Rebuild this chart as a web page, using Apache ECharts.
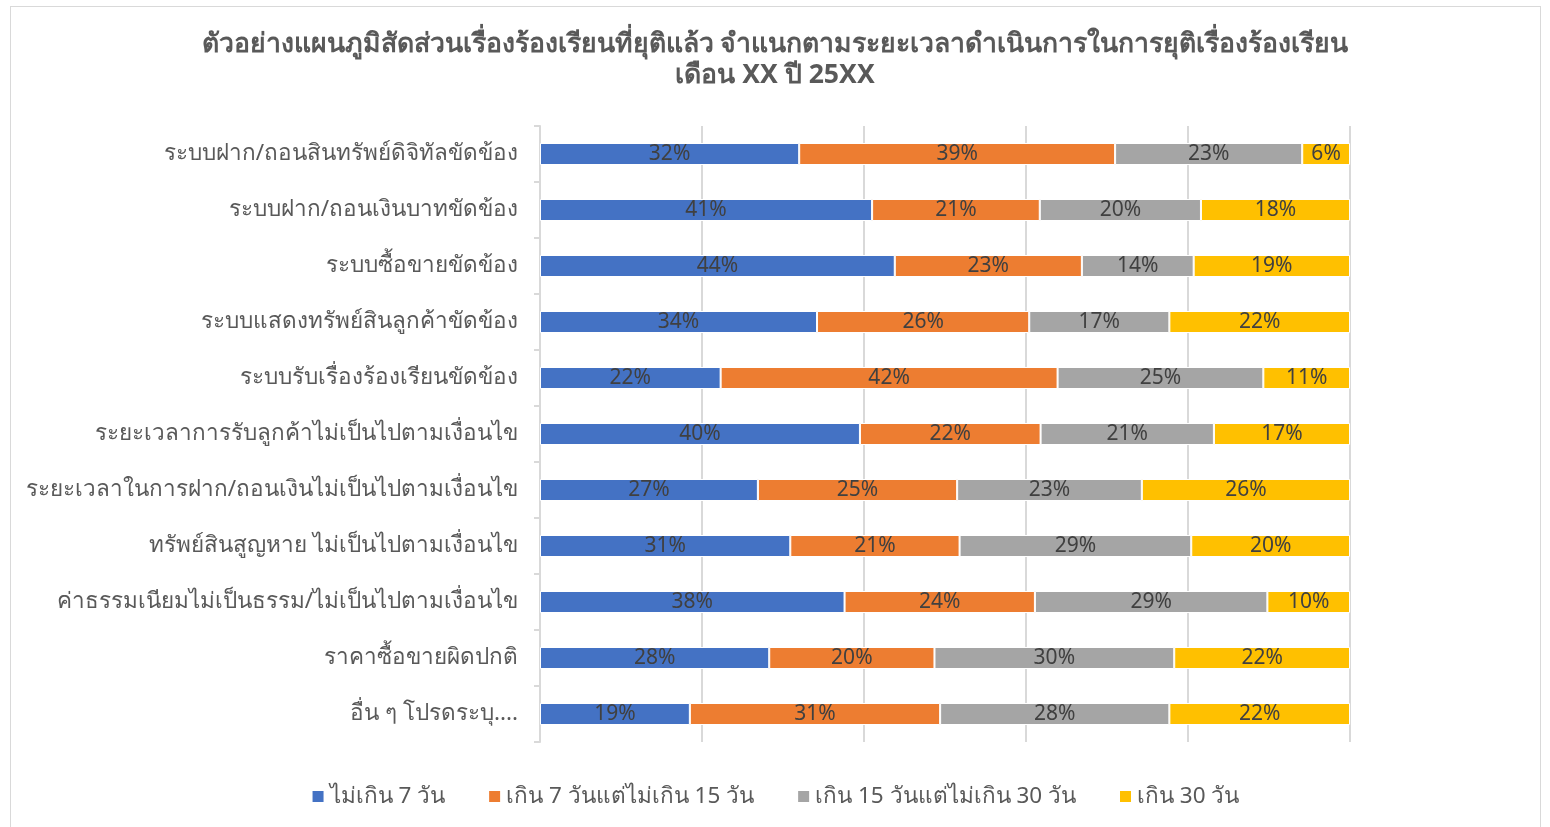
<!DOCTYPE html>
<html><head><meta charset="utf-8">
<script src="https://cdn.jsdelivr.net/npm/echarts@6/dist/echarts.min.js"></script>
<style>html,body{margin:0;padding:0;background:#fff}#c{width:1550px;height:827px}
#frame{position:absolute;left:10px;top:6px;width:1531px;height:830px;border:1px solid #d9d9d9;box-sizing:border-box;pointer-events:none}</style>
</head><body><div id="c"></div><div id="frame"></div>
<script>
const categories = [
  'ระบบฝาก/ถอนสินทรัพย์ดิจิทัลขัดข้อง',
  'ระบบฝาก/ถอนเงินบาทขัดข้อง',
  'ระบบซื้อขายขัดข้อง',
  'ระบบแสดงทรัพย์สินลูกค้าขัดข้อง',
  'ระบบรับเรื่องร้องเรียนขัดข้อง',
  'ระยะเวลาการรับลูกค้าไม่เป็นไปตามเงื่อนไข',
  'ระยะเวลาในการฝาก/ถอนเงินไม่เป็นไปตามเงื่อนไข',
  'ทรัพย์สินสูญหาย ไม่เป็นไปตามเงื่อนไข',
  'ค่าธรรมเนียมไม่เป็นธรรม/ไม่เป็นไปตามเงื่อนไข',
  'ราคาซื้อขายผิดปกติ',
  'อื่น ๆ โปรดระบุ....'
];
const seriesNames = ['ไม่เกิน 7 วัน', 'เกิน 7 วันแต่ไม่เกิน 15 วัน', 'เกิน 15 วันแต่ไม่เกิน 30 วัน', 'เกิน 30 วัน'];
const within7 =   [32.0, 41.0, 43.8, 34.2, 22.3, 39.5, 26.9, 30.9, 37.6, 28.3, 18.5];
const d7to15 =    [39.0, 20.7, 23.1, 26.2, 41.6, 22.3, 24.6, 20.9, 23.5, 20.4, 30.9];
const d15to30 =   [23.1, 19.9, 13.8, 17.3, 25.4, 21.4, 22.8, 28.6, 28.7, 29.6, 28.3];
const over30 =    [5.9, 18.4, 19.3, 22.3, 10.7, 16.8, 25.7, 19.6, 10.2, 21.7, 22.3];
const colors = ['#4472C4', '#ED7D31', '#A5A5A5', '#FFC000'];
const font = 'Tahoma, "Noto Sans", sans-serif';

const chart = echarts.init(document.getElementById('c'));
const dataSets = [within7, d7to15, d15to30, over30];
chart.setOption({
  animation: false,
  textStyle: { fontFamily: font },
  title: {
    text: 'ตัวอย่างแผนภูมิสัดส่วนเรื่องร้องเรียนที่ยุติแล้ว จำแนกตามระยะเวลาดำเนินการในการยุติเรื่องร้องเรียน\nเดือน XX ปี 25XX',
    left: 'center', top: 24,
    textStyle: { fontFamily: font, fontSize: 26.6, fontWeight: 'bold', color: '#595959', lineHeight: 31 }
  },
  legend: {
    bottom: 14, left: 'center', itemWidth: 13, itemHeight: 13, itemGap: 42,
    icon: 'rect',
    textStyle: { fontFamily: font, fontSize: 22.5, color: '#595959' },
    data: seriesNames
  },
  grid: { left: 540, right: 200, top: 126, bottom: 85 },
  xAxis: {
    type: 'value', min: 0, max: 100, interval: 20,
    axisLabel: { show: false }, axisLine: { show: false }, axisTick: { show: false },
    splitLine: { lineStyle: { color: '#d9d9d9', width: 2 } }
  },
  yAxis: {
    type: 'category', inverse: true, data: categories,
    axisLine: { lineStyle: { color: '#d9d9d9', width: 2 } },
    axisTick: { show: true, length: 6, lineStyle: { color: '#d9d9d9', width: 2 } },
    axisLabel: { fontFamily: font, fontSize: 22.5, color: '#595959', margin: 22 }
  },
  series: dataSets.map((d, i) => ({
    name: seriesNames[i], type: 'bar', stack: 'total', data: d, barWidth: 22,
    itemStyle: { color: colors[i], borderColor: '#ffffff', borderWidth: 1 },
    label: {
      show: true, position: 'inside', fontFamily: font, fontSize: 21, color: '#404040',
      formatter: p => Math.round(p.value) + '%'
    }
  }))
});
</script></body></html>
